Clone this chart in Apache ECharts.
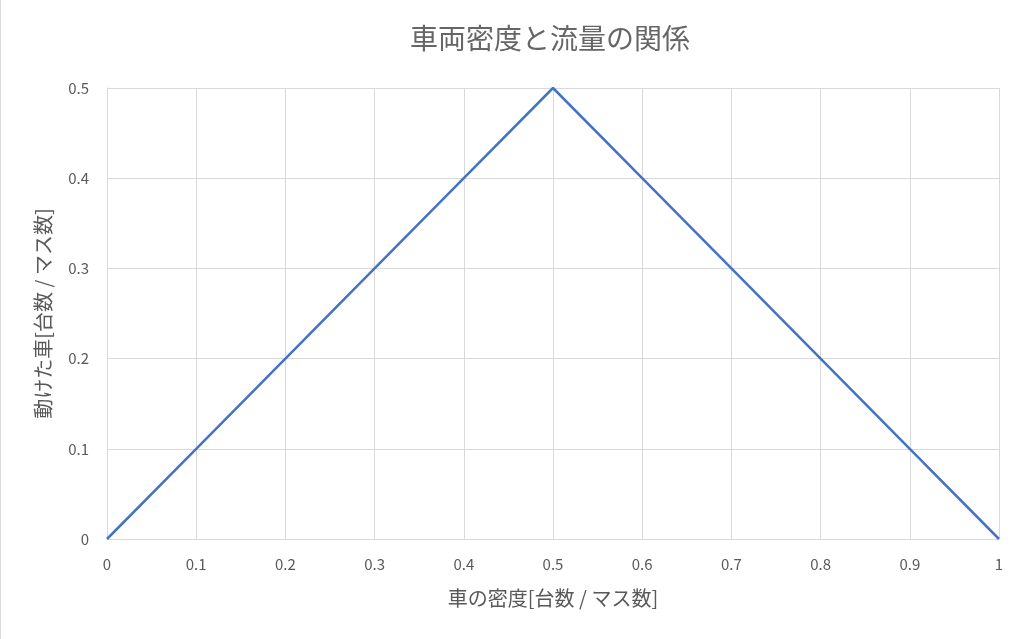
<!DOCTYPE html>
<html><head><meta charset="utf-8">
<script src="https://cdn.jsdelivr.net/npm/echarts@6/dist/echarts.min.js"></script>
<style>html,body{margin:0;padding:0;background:#fff}#c{width:1024px;height:639px}</style>
</head><body><div id="c"></div>
<script>
const titleText = '車両密度と流量の関係';
const xName = '車の密度[台数 / マス数]';
const yName = '動けた車[台数 / マス数]';
const densities = [0, 0.1, 0.2, 0.3, 0.4, 0.5, 0.6, 0.7, 0.8, 0.9, 1];
const flows = [0, 0.1, 0.2, 0.3, 0.4, 0.5, 0.4, 0.3, 0.2, 0.1, 0];
const font = '"Noto Sans CJK JP","Noto Sans",sans-serif';
const chart = echarts.init(document.getElementById('c'));
chart.setOption({
  animation: false,
  graphic: [
    {type: 'line', shape: {x1: 0.5, y1: 0, x2: 0.5, y2: 639}, style: {stroke: '#d9d9d9', lineWidth: 1}},
    {type: 'text', x: 550, y: 38, style: {text: titleText, font: '28px ' + font, fill: '#666666', textAlign: 'center', textVerticalAlign: 'middle', verticalAlign: 'middle', align: 'center'}}
  ],
  grid: {left: 107, right: 25, top: 88, bottom: 100, containLabel: false},
  xAxis: {type: 'value', min: 0, max: 1, interval: 0.1,
    name: xName, nameLocation: 'middle', nameGap: 49,
    nameTextStyle: {fontFamily: font, fontSize: 20, color: '#595959'},
    axisLine: {show: true, lineStyle: {color: '#d9d9d9'}}, axisTick: {show: false},
    axisLabel: {fontFamily: font, fontSize: 15, color: '#595959', margin: 18, formatter: v => String(+v.toFixed(1))},
    splitLine: {show: true, lineStyle: {color: '#d9d9d9'}}},
  yAxis: {type: 'value', min: 0, max: 0.5, interval: 0.1,
    name: yName, nameLocation: 'middle', nameGap: 54,
    nameTextStyle: {fontFamily: font, fontSize: 20, color: '#595959'},
    axisLine: {show: true, lineStyle: {color: '#d9d9d9'}}, axisTick: {show: false},
    axisLabel: {fontFamily: font, fontSize: 15, color: '#595959', margin: 18, formatter: v => String(+v.toFixed(1))},
    splitLine: {show: true, lineStyle: {color: '#d9d9d9'}}},
  series: [{type: 'line', data: densities.map((d, i) => [d, flows[i]]), showSymbol: false,
    lineStyle: {color: '#4472C4', width: 2.5}, itemStyle: {color: '#4472C4'}}]
});
</script></body></html>
